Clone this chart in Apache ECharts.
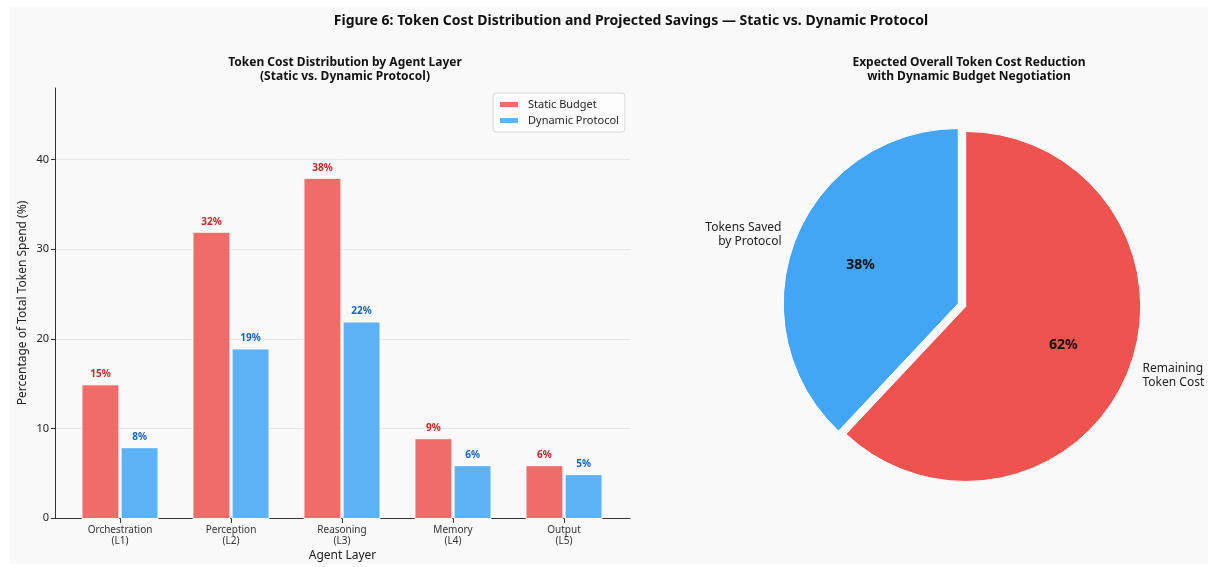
<!DOCTYPE html>
<html>
<head>
<meta charset="utf-8">
<script src="https://cdn.jsdelivr.net/npm/echarts@6/dist/echarts.min.js"></script>
<style>
  html, body { margin: 0; padding: 0; background: #ffffff; }
  #panel { position: absolute; left: 10px; top: 7px; width: 1198px; height: 557px; background: #f9f9f9; }
  #chart { position: absolute; left: 0; top: 0; width: 1208px; height: 567px; }
</style>
</head>
<body>
<div id="panel"></div>
<div id="chart"></div>
<script>
// Agent layers and their share of total token spend (%)
const layers = ['Orchestration\n(L1)', 'Perception\n(L2)', 'Reasoning\n(L3)', 'Memory\n(L4)', 'Output\n(L5)'];
const staticBudget = [15, 32, 38, 9, 6];
const dynamicProtocol = [8, 19, 22, 6, 5];

// Overall split of the static token cost under the dynamic protocol (%)
const pieNames = ['Remaining\nToken Cost', 'Tokens Saved\nby Protocol'];
const pieValues = [62, 38];

// Y axis range and its labelled ticks
const yRange = { min: 0, max: 48, interval: 10 };
const yTickValues = [0, 10, 20, 30, 40];

const FONT = '"Noto Sans", "DejaVu Sans", sans-serif';
const RED = '#EF5350', BLUE = '#42A5F5';
const RED_BAR = 'rgba(239,83,80,0.85)', BLUE_BAR = 'rgba(66,165,245,0.85)';

const chart = echarts.init(document.getElementById('chart'), null, { renderer: 'canvas' });

const titleStyle = { fontFamily: FONT, fontWeight: 'bold', color: '#111', fontSize: 12, lineHeight: 14 };

const option = {
  backgroundColor: 'transparent',
  animation: false,
  textStyle: { fontFamily: FONT },
  title: [
    { text: 'Figure 6: Token Cost Distribution and Projected Savings \u2014 Static vs. Dynamic Protocol',
      left: 626, top: 9, textAlign: 'center',
      textStyle: { fontFamily: FONT, fontWeight: 'bold', fontSize: 14, color: '#111' } },
    { text: 'Token Cost Distribution by Agent Layer\n(Static vs. Dynamic Protocol)',
      left: 340, top: 51, textAlign: 'center', textStyle: titleStyle },
    { text: 'Expected Overall Token Cost Reduction\nwith Dynamic Budget Negotiation',
      left: 964, top: 51, textAlign: 'center', textStyle: titleStyle }
  ],
  legend: {
    data: ['Static Budget', 'Dynamic Protocol'],
    orient: 'vertical',
    left: 493, top: 93,
    itemWidth: 20, itemHeight: 7, itemGap: 5,
    padding: [6, 6, 6, 5],
    backgroundColor: 'rgba(255,255,255,0.6)',
    borderColor: '#d8d8d8', borderWidth: 1, borderRadius: 3,
    textStyle: { fontFamily: FONT, fontSize: 11, color: '#222', padding: [0, 0, 0, 4] },
    icon: 'rect'
  },
  grid: [
    { left: 55, right: 578, top: 88, bottom: 48 },
    { left: 64.5, width: 555, top: 88, bottom: 48 }
  ],
  xAxis: [
    { gridIndex: 0, type: 'value', min: 0, max: 1,
      axisLine: { show: true, onZero: false, lineStyle: { color: '#333', width: 1 } },
      axisTick: { show: false }, axisLabel: { show: false }, splitLine: { show: false },
      name: 'Agent Layer', nameLocation: 'middle', nameGap: 32,
      nameTextStyle: { fontFamily: FONT, fontSize: 12, color: '#222' } },
    { gridIndex: 1, type: 'category', data: layers,
      axisLine: { show: false },
      axisTick: { show: true, alignWithLabel: true, length: 4, lineStyle: { color: '#333' } },
      axisLabel: { fontFamily: FONT, fontSize: 10, color: '#333', lineHeight: 11, margin: 6 } }
  ],
  yAxis: [
    { gridIndex: 0, type: 'value', min: yRange.min, max: yRange.max, interval: yRange.interval,
      axisLine: { show: true, lineStyle: { color: '#333', width: 1 } },
      axisTick: { show: true, length: 4, lineStyle: { color: '#333' }, customValues: yTickValues },
      axisLabel: { fontFamily: FONT, fontSize: 11, color: '#222', margin: 6, customValues: yTickValues },
      splitLine: { show: true, lineStyle: { color: '#e6e6e6', width: 1 } },
      name: 'Percentage of Total Token Spend (%)', nameLocation: 'middle', nameGap: 26,
      nameTextStyle: { fontFamily: FONT, fontSize: 12, color: '#222' } },
    { gridIndex: 1, type: 'value', min: yRange.min, max: yRange.max, interval: yRange.interval, show: false }
  ],
  series: [
    { name: 'Static Budget', type: 'bar', xAxisIndex: 1, yAxisIndex: 1, data: staticBudget,
      barWidth: 38, barGap: '3%',
      itemStyle: { color: RED_BAR, borderColor: '#ffffff', borderWidth: 1 },
      label: { show: true, position: 'top', distance: 5, formatter: '{c}%',
        fontFamily: FONT, fontSize: 10, fontWeight: 'bold', color: '#C62828' } },
    { name: 'Dynamic Protocol', type: 'bar', xAxisIndex: 1, yAxisIndex: 1, data: dynamicProtocol,
      barWidth: 38, barGap: '3%',
      itemStyle: { color: BLUE_BAR, borderColor: '#ffffff', borderWidth: 1 },
      label: { show: true, position: 'top', distance: 5, formatter: '{c}%',
        fontFamily: FONT, fontSize: 10, fontWeight: 'bold', color: '#1565C0' } },
    // Pie slices with their outer name labels
    { name: 'overall', type: 'pie', center: [962, 305], radius: 175,
      startAngle: 90, clockwise: true,
      selectedMode: 'multiple', selectedOffset: 4,
      emphasis: { disabled: true },
      itemStyle: { borderColor: '#ffffff', borderWidth: 1 },
      label: { show: true, position: 'outside', fontFamily: FONT, fontSize: 12, color: '#222',
        lineHeight: 14, formatter: '{b}', distanceToLabelLine: 2, overflow: 'none' },
      labelLine: { show: false, length: 13, length2: 0 },
      data: pieValues.map((v, i) => ({ name: pieNames[i], value: v, selected: true,
        itemStyle: { color: i === 0 ? RED : BLUE } })) },
    // Percentage labels inside the slices
    { name: 'overall-pct', type: 'pie', center: [962, 305], radius: [0, 204],
      startAngle: 90, clockwise: true, silent: true,
      selectedMode: 'multiple', selectedOffset: 4,
      itemStyle: { color: 'transparent' },
      label: { show: true, position: 'inside', fontFamily: FONT, fontSize: 14, fontWeight: 'bold',
        color: '#111', formatter: '{c}%' },
      labelLine: { show: false },
      data: pieValues.map((v, i) => ({ name: pieNames[i], value: v, selected: true })) }
  ]
};

chart.setOption(option);
</script>
</body>
</html>
